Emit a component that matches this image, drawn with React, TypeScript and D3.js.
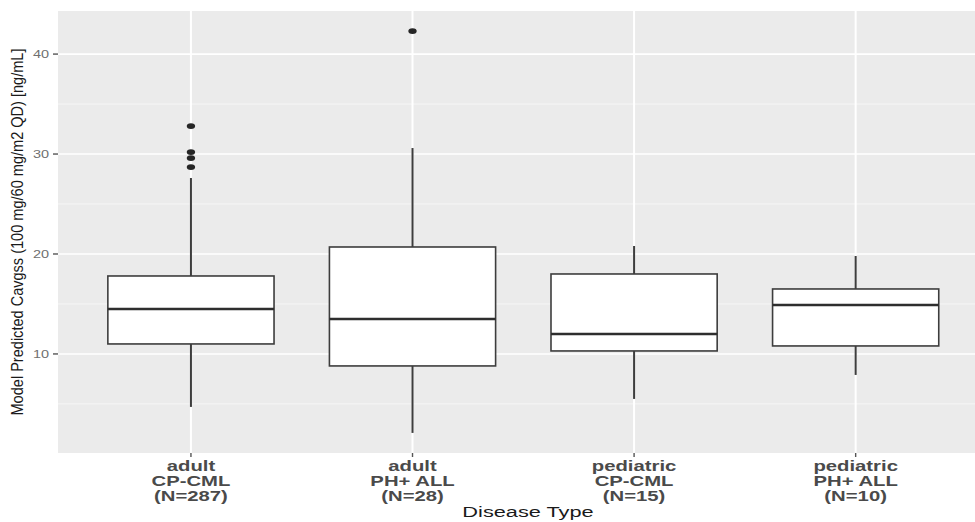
import React from "react";
import * as d3 from "d3";

// Disease groups, one label line per row
const groupLine1 = ["adult", "adult", "pediatric", "pediatric"];
const groupLine2 = ["CP-CML", "PH+ ALL", "CP-CML", "PH+ ALL"];
const groupCounts = ["(N=287)", "(N=28)", "(N=15)", "(N=10)"];

// Box statistics per group (ng/mL)
const whiskerLow = [4.7, 2.1, 5.5, 7.9];
const quartile1 = [11.0, 8.8, 10.3, 10.8];
const medians = [14.5, 13.5, 12.0, 14.9];
const quartile3 = [17.8, 20.7, 18.0, 16.5];
const whiskerHigh = [27.6, 30.6, 20.8, 19.8];
const outliers: number[][] = [[28.7, 29.6, 30.2, 32.8], [42.3], [], []];

const yTicks = [10, 20, 30, 40];
const yMinorTicks = [5, 15, 25, 35];

const xTitle = "Disease Type";
const yTitle = "Model Predicted Cavgss (100 mg/60 mg/m2 QD) [ng/mL]";

const W = 975;
const H = 522;
const panel = { left: 58, top: 11, bottom: 453, right: 988.6 };
const stretch = 1.45;
const FONT = "'Liberation Sans', Arial, Helvetica, sans-serif";

export default function App() {
  const keys = groupLine1.map((_, i) => String(i));

  const allVals = [...whiskerLow, ...whiskerHigh, ...outliers.flat()];
  const lo = d3.min(allVals) as number;
  const hi = d3.max(allVals) as number;
  const pad = (hi - lo) * 0.05;

  const y = d3
    .scaleLinear()
    .domain([lo - pad, hi + pad])
    .range([panel.bottom, panel.top]);

  const x = d3
    .scalePoint<string>()
    .domain(keys)
    .range([panel.left, panel.right])
    .padding(0.6);

  const boxW = x.step() * 0.75;
  const boxStroke = "#3d3d3d";

  return (
    <svg
      width={W}
      height={H}
      style={{ position: "absolute", left: 0, top: 0, display: "block", background: "#fff" }}
    >
      <defs>
        <clipPath id="panelClip">
          <rect x={panel.left} y={panel.top} width={panel.right - panel.left} height={panel.bottom - panel.top} />
        </clipPath>
      </defs>

      <g clipPath="url(#panelClip)">
        <rect
          x={panel.left}
          y={panel.top}
          width={panel.right - panel.left}
          height={panel.bottom - panel.top}
          fill="#EBEBEB"
        />
        {yMinorTicks.map((t) => (
          <line key={"mn" + t} x1={panel.left} x2={panel.right} y1={y(t)} y2={y(t)} stroke="#F6F6F6" strokeWidth={1} />
        ))}
        {yTicks.map((t) => (
          <line key={"mj" + t} x1={panel.left} x2={panel.right} y1={y(t)} y2={y(t)} stroke="#FFFFFF" strokeWidth={1.6} />
        ))}
        {keys.map((k) => (
          <line key={"vx" + k} x1={x(k)} x2={x(k)} y1={panel.top} y2={panel.bottom} stroke="#FFFFFF" strokeWidth={2} />
        ))}

        {keys.map((k, i) => {
          const cx = x(k) as number;
          return (
            <g key={"box" + k}>
              <line x1={cx} x2={cx} y1={y(quartile3[i])} y2={y(whiskerHigh[i])} stroke={boxStroke} strokeWidth={2} />
              <line x1={cx} x2={cx} y1={y(quartile1[i])} y2={y(whiskerLow[i])} stroke={boxStroke} strokeWidth={2} />
              <rect
                x={cx - boxW / 2}
                y={y(quartile3[i])}
                width={boxW}
                height={y(quartile1[i]) - y(quartile3[i])}
                fill="#FFFFFF"
                stroke={boxStroke}
                strokeWidth={1.6}
              />
              <line
                x1={cx - boxW / 2}
                x2={cx + boxW / 2}
                y1={y(medians[i])}
                y2={y(medians[i])}
                stroke="#2e2e2e"
                strokeWidth={2.4}
              />
              {outliers[i].map((v, j) => (
                <ellipse key={j} cx={cx} cy={y(v)} rx={4.2} ry={2.9} fill="#262626" />
              ))}
            </g>
          );
        })}
      </g>

      {/* y axis ticks and labels */}
      {yTicks.map((t) => (
        <g key={"yt" + t}>
          <line x1={panel.left - 5} x2={panel.left} y1={y(t)} y2={y(t)} stroke="#555" strokeWidth={1.4} />
          <text
            transform={`translate(${panel.left - 9},${y(t) + 3.6}) scale(${stretch},1)`}
            textAnchor="end"
            fontFamily={FONT}
            fontSize={10}
            fill="#707070"
          >
            {t}
          </text>
        </g>
      ))}

      {/* x axis ticks and labels */}
      {keys.map((k, i) => {
        const cx = x(k) as number;
        const lines = [groupLine1[i], groupLine2[i], groupCounts[i]];
        const baselines = [470.5, 486, 501];
        return (
          <g key={"xt" + k}>
            <line x1={cx} x2={cx} y1={panel.bottom} y2={panel.bottom + 4} stroke="#555" strokeWidth={1.4} />
            {lines.map((s, j) => (
              <text
                key={j}
                transform={`translate(${cx},${baselines[j]}) scale(${stretch},1)`}
                textAnchor="middle"
                fontFamily={FONT}
                fontWeight="bold"
                fontSize={14}
                fill="#4a4a4a"
              >
                {s}
              </text>
            ))}
          </g>
        );
      })}

      <text
        transform={`translate(528,516.5) scale(${stretch},1)`}
        textAnchor="middle"
        fontFamily={FONT}
        fontSize={15}
        fill="#1a1a1a"
      >
        {xTitle}
      </text>

      <text
        transform={`translate(22.5,${(panel.top + panel.bottom) / 2}) rotate(-90)`}
        textAnchor="middle"
        fontFamily={FONT}
        fontSize={16}
        textLength={367}
        lengthAdjust="spacingAndGlyphs"
        fill="#1a1a1a"
      >
        {yTitle}
      </text>
    </svg>
  );
}
